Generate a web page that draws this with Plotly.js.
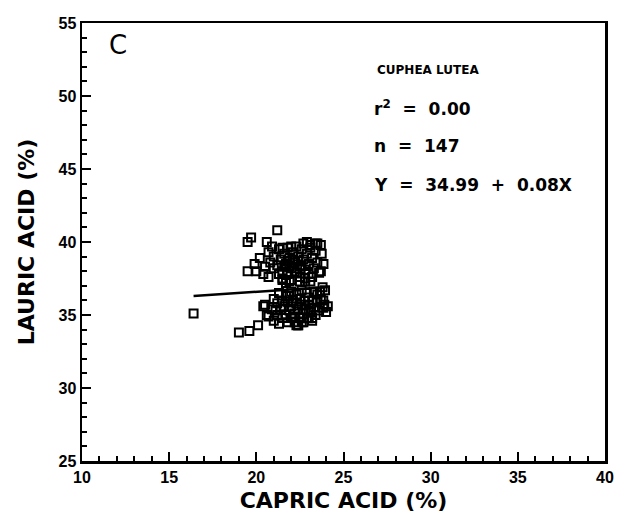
<!DOCTYPE html>
<html>
<head>
<meta charset="utf-8">
<script src="https://cdn.plot.ly/plotly-3.0.1.min.js"></script>
<style>html,body{margin:0;padding:0;background:#fff;}#chart{width:621px;height:521px;}</style>
</head>
<body>
<div id="chart"></div>
<script>
// Capric acid (%) for each plant sample
const capric = [
  16.4, 19.0, 19.6, 20.1, 19.5, 19.7, 21.2, 20.6, 20.9,
  19.5, 20.0, 19.9, 20.2, 20.5, 20.4, 20.8, 20.7, 21.0, 21.0, 21.3, 21.4, 21.5, 21.5, 21.6, 21.7,
  21.8, 21.8, 21.9, 22.0, 22.0, 22.1, 22.2, 22.3, 22.3, 22.4, 22.5, 22.5, 22.6, 22.7, 22.8, 22.9,
  22.9, 23.0, 23.0, 23.1, 23.2, 23.3, 23.4, 23.4, 23.5, 23.6, 23.75, 23.85, 23.7, 21.2, 21.6, 21.9,
  22.2, 22.6, 22.1, 21.8, 22.4, 21.5, 22.0, 22.5, 21.3, 22.8, 21.7, 23.2, 22.7, 23.1, 23.5, 23.7,
  20.7, 21.5, 21.9, 22.5, 22.8, 23.8,
  20.5, 20.7, 20.9, 21.0, 21.0, 21.2, 21.2, 21.3, 21.3, 21.4, 21.5, 21.5, 21.6, 21.7, 21.7, 21.8,
  21.8, 21.9, 22.0, 22.0, 22.0, 22.1, 22.2, 22.2, 22.3, 22.3, 22.4, 22.4, 22.5, 22.5, 22.6, 22.6,
  22.7, 22.7, 22.8, 22.8, 22.9, 22.9, 23.0, 23.0, 23.0, 23.1, 23.1, 23.2, 23.2, 23.3, 23.3, 23.4,
  23.5, 23.5, 23.6, 23.7, 23.84, 23.84, 23.94, 24.1, 24.0, 22.98, 22.4, 20.4, 20.6, 23.0, 23.2,
  22.6, 22.3, 23.65, 23.9, 21.1, 21.9, 22.1
];
// Lauric acid (%) for the same samples
const lauric = [
  35.1, 33.8, 33.9, 34.3, 40.0, 40.3, 40.8, 40.0, 39.7,
  38.0, 38.0, 38.5, 38.9, 38.3, 37.8, 38.6, 39.3, 39.0, 38.2, 39.5, 38.8, 38.0, 37.5, 39.2, 38.5,
  37.8, 39.6, 38.9, 38.2, 37.4, 39.3, 38.6, 37.9, 39.7, 39.0, 38.3, 37.6, 39.5, 38.8, 38.1, 40.0,
  39.2, 38.5, 37.8, 39.6, 38.9, 38.2, 39.9, 39.4, 38.6, 37.9, 39.2, 38.5, 38.0, 38.4, 38.3, 38.3,
  38.0, 38.4, 38.8, 38.7, 38.7, 39.6, 39.7, 37.3, 37.8, 37.5, 37.2, 37.6, 39.9, 39.8, 39.9, 39.8,
  37.6, 37.4, 37.3, 37.6, 37.3, 36.9,
  35.7, 34.9, 35.4, 36.1, 34.6, 35.0, 35.8, 36.5, 34.4, 35.4, 36.0, 34.8, 35.6, 36.3, 35.0, 34.5,
  35.9, 35.3, 36.6, 34.8, 35.6, 36.0, 35.1, 34.5, 35.8, 36.4, 34.3, 35.4, 36.1, 34.8, 35.7, 36.7,
  35.1, 34.5, 36.0, 35.4, 36.5, 34.8, 35.7, 34.8, 36.2, 35.2, 37.3, 36.0, 34.6, 35.5, 36.6, 35.0,
  35.9, 36.4, 35.3, 36.1, 35.5, 36.0, 36.7, 35.6, 35.2, 34.77, 34.3, 35.6, 35.0, 35.3, 34.8,
  34.5, 34.3, 36.6, 35.7, 35.3, 36.3, 34.9
];
// Regression reported on the chart
const intercept = 34.99;
const slope = 0.08;
const fitX = [Math.min(...capric), Math.max(...capric)];
const fitY = fitX.map(v => intercept + slope * v);

const xRange = [10, 40];
const yRange = [25, 55];
const panelLabel = 'C';
const statLines = ['CUPHEA LUTEA', 'r<sup>2</sup> \u00a0= \u00a00.00', 'n \u00a0= \u00a0147', 'Y \u00a0= \u00a034.99 \u00a0+ \u00a00.08X'];

const tickFont = {family: 'Liberation Sans, Arial, sans-serif', color: '#000', weight: 'bold', size: 16};
const wideBold = {family: 'DejaVu Sans, sans-serif', color: '#000', weight: 'bold'};

const traces = [
  {
    x: capric, y: lauric, type: 'scatter', mode: 'markers',
    marker: {symbol: 'square-open', size: 8, color: '#000', line: {width: 2, color: '#000'}},
    hoverinfo: 'skip', showlegend: false
  },
  {
    x: fitX, y: fitY, type: 'scatter', mode: 'lines',
    line: {color: '#000', width: 2.5}, hoverinfo: 'skip', showlegend: false
  }
];

const axisCommon = {
  showgrid: false, zeroline: false, showline: true, linecolor: '#000', linewidth: 2.5,
  mirror: true, ticks: 'inside', ticklen: 9, tickwidth: 2, tickcolor: '#000',
  tickmode: 'linear', dtick: 5, tickfont: tickFont,
  minor: {dtick: 1, ticks: 'inside', ticklen: 5, tickwidth: 2, tickcolor: '#000', showgrid: false}
};

const layout = {
  width: 621, height: 521,
  margin: {l: 82, r: 16, t: 23, b: 60},
  paper_bgcolor: '#fff', plot_bgcolor: '#fff',
  xaxis: Object.assign({}, axisCommon, {
    range: xRange, tick0: xRange[0],
    title: {text: 'CAPRIC ACID (%)', font: Object.assign({size: 22}, wideBold), standoff: 8}
  }),
  yaxis: Object.assign({}, axisCommon, {
    range: yRange, tick0: yRange[0],
    title: {text: 'LAURIC ACID (%)', font: Object.assign({size: 22}, wideBold), standoff: 18}
  }),
  annotations: [
    {xref: 'paper', yref: 'paper', x: 0.047, y: 0.95, xanchor: 'left', yanchor: 'middle',
     text: panelLabel, showarrow: false, font: {family: 'DejaVu Sans, sans-serif', size: 26, color: '#000'}},
    {xref: 'paper', yref: 'paper', x: 0.56, y: 0.893, xanchor: 'left', yanchor: 'middle',
     text: statLines[0], showarrow: false, font: Object.assign({size: 12}, wideBold)},
    {xref: 'paper', yref: 'paper', x: 0.555, y: 0.806, xanchor: 'left', yanchor: 'middle',
     text: statLines[1], showarrow: false, font: Object.assign({size: 17}, wideBold)},
    {xref: 'paper', yref: 'paper', x: 0.555, y: 0.719, xanchor: 'left', yanchor: 'middle',
     text: statLines[2], showarrow: false, font: Object.assign({size: 17}, wideBold)},
    {xref: 'paper', yref: 'paper', x: 0.555, y: 0.630, xanchor: 'left', yanchor: 'middle',
     text: statLines[3], showarrow: false, font: Object.assign({size: 17}, wideBold)}
  ]
};

Plotly.newPlot('chart', traces, layout, {displayModeBar: false, staticPlot: true});
</script>
</body>
</html>
